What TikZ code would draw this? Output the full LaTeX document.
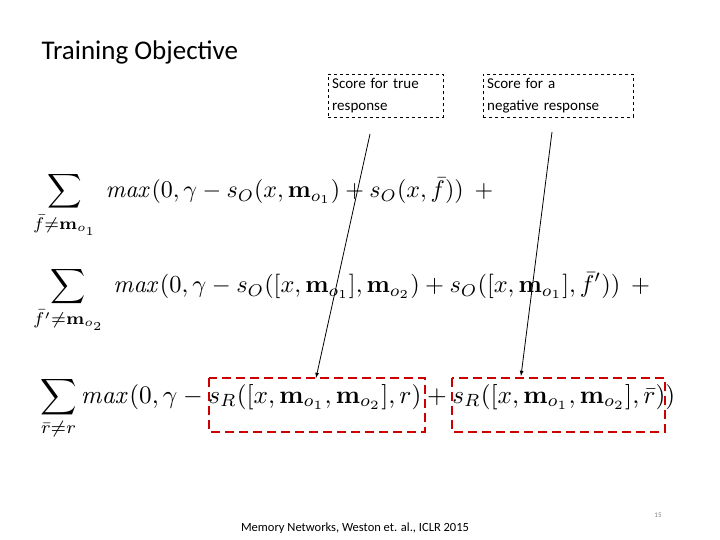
\documentclass[tikz,border=0pt]{standalone}
\usepackage{amsmath}
\usepackage[no-math]{fontspec}
\setmainfont{Carlito}
\begin{document}
\begin{tikzpicture}[x=1pt,y=-1pt,
  lbl/.style={draw,dashed,thin,align=left,font=\fontsize{15}{22}\selectfont,inner sep=4pt,anchor=north west,text width=#1},
  red/.style={draw=red!80!black,line width=2.2pt,dash pattern=on 9pt off 5pt},
  eq/.style={anchor=west,inner sep=0pt},
  arr/.style={-latex,thick}]
\useasboundingbox (0,0) rectangle (720,540);
\node[anchor=west,font=\fontsize{27}{30}\selectfont] (title) at (38,52) {Training Objective};
\node[lbl=107pt] (t1) at (328,74) {Score for true\\response};
\node[lbl=142pt] (t2) at (483,74) {Score for a\\negative response};
\node[eq] (e1) at (33,205) {\resizebox{460pt}{!}{$\displaystyle\sum_{\bar f\neq \mathbf{m}_{o_1}}\ \mathit{max}(0,\gamma-s_O(x,\mathbf{m}_{o_1})+s_O(x,\bar f))\ \ +$}};
\node[eq] (e2) at (33,300) {\resizebox{617pt}{!}{$\displaystyle\sum_{\bar f'\neq \mathbf{m}_{o_2}}\ \mathit{max}(0,\gamma-s_O([x,\mathbf{m}_{o_1}],\mathbf{m}_{o_2})+s_O([x,\mathbf{m}_{o_1}],\bar f'))\ \ +$}};
\node[eq] (e3) at (40,408) {\resizebox{635pt}{!}{$\displaystyle\sum_{\bar r\neq r}\mathit{max}(0,\gamma-s_R([x,\mathbf{m}_{o_1},\mathbf{m}_{o_2}],r)+s_R([x,\mathbf{m}_{o_1},\mathbf{m}_{o_2}],\bar r))$}};
\draw[red] (209,378) rectangle (425,432);
\draw[red] (452,378) rectangle (665,432);
\coordinate (b1) at (316,378);
\coordinate (b2) at (521,376);
\draw[arr] (370,134) -- (b1);
\draw[arr] (552,132) -- (b2);
\node[font=\fontsize{12.5}{14}\selectfont] (ft) at (355,528) {Memory Networks, Weston et. al., ICLR 2015};
\node[font=\fontsize{7}{8}\selectfont,text=gray] (pg) at (658,515) {15};
\end{tikzpicture}
\end{document}
